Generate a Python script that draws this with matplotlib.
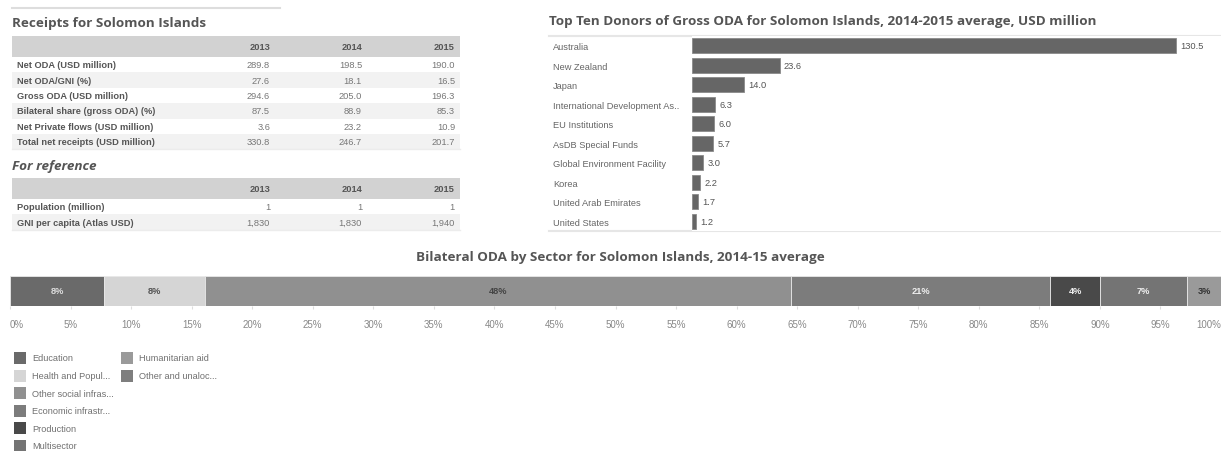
import numpy as np
import matplotlib
matplotlib.use("Agg")
import matplotlib.pyplot as plt
from matplotlib.patches import Rectangle

# ---- data ----
years = ["2013", "2014", "2015"]
receipt_rows = ["Net ODA (USD million)", "Net ODA/GNI (%)", "Gross ODA (USD million)",
                "Bilateral share (gross ODA) (%)", "Net Private flows (USD million)",
                "Total net receipts (USD million)"]
receipt_vals = [["289.8", "198.5", "190.0"],
                ["27.6", "18.1", "16.5"],
                ["294.6", "205.0", "196.3"],
                ["87.5", "88.9", "85.3"],
                ["3.6", "23.2", "10.9"],
                ["330.8", "246.7", "201.7"]]
ref_rows = ["Population (million)", "GNI per capita (Atlas USD)"]
ref_vals = [["1", "1", "1"],
            ["1,830", "1,830", "1,940"]]

donors = ["Australia", "New Zealand", "Japan", "International Development As..",
          "EU Institutions", "AsDB Special Funds", "Global Environment Facility",
          "Korea", "United Arab Emirates", "United States"]
donor_vals = [130.5, 23.6, 14.0, 6.3, 6.0, 5.7, 3.0, 2.2, 1.7, 1.2]

sectors = ["Education", "Health and Popul...", "Other social infras...", "Economic infrastr...",
           "Production", "Multisector", "Humanitarian aid", "Other and unaloc..."]
sector_share = [7.8, 8.3, 48.4, 21.4, 4.1, 7.2, 2.8, 0.0]
sector_colors = ["#6a6a6a", "#d5d5d5", "#909090", "#7c7c7c", "#494949", "#747474", "#9a9a9a", "#7e7e7e"]
sector_text = ["#dcdcdc", "#555555", "#444444", "#eeeeee", "#eeeeee", "#eeeeee", "#333333", "#333333"]

W, H = 1221, 452
TITLE = dict(family="Open Sans", fontweight="bold", color="#555555", fontsize=9.7)
BODY = "Liberation Sans"
FS = 6.7

fig = plt.figure(figsize=(W / 100, H / 100), dpi=100)

def px_axes(x0, y0, x1, y1):
    return fig.add_axes([x0 / W, 1 - y1 / H, (x1 - x0) / W, (y1 - y0) / H])

# overlay in pixel coords for the tables / frames / legend
ov = fig.add_axes([0, 0, 1, 1])
ov.set_xlim(0, W)
ov.set_ylim(H, 0)
ov.axis("off")

# ---- receipts table ----
ov.plot([12, 280], [9, 9], color="#dddddd", lw=1.5)
ov.text(12, 24, "Receipts for Solomon Islands", va="center", **TITLE)
col_x = [270, 362, 455]

def draw_table(top, rows, vals):
    ov.add_patch(Rectangle((12, top), 448, 21, color="#d2d2d2", lw=0))
    for x, y in zip(col_x, years):
        ov.text(x, top + 10.5, y, ha="right", va="center", family=BODY,
                fontweight="bold", fontsize=FS, color="#555555")
    y = top + 21
    for i, (name, v) in enumerate(zip(rows, vals)):
        if i % 2 == 1:
            ov.add_patch(Rectangle((12, y), 448, 15.4, color="#f2f2f2", lw=0))
        ov.text(17, y + 7.7, name, va="center", family=BODY, fontweight="bold",
                fontsize=FS, color="#555555")
        for x, s in zip(col_x, v):
            ov.text(x, y + 7.7, s, ha="right", va="center", family=BODY,
                    fontsize=FS, color="#777777")
        y += 15.4
    ov.plot([12, 460], [y, y], color="#ececec", lw=1)

draw_table(37, receipt_rows, receipt_vals)
ov.text(12, 167, "For reference", va="center", fontstyle="italic", **TITLE)
draw_table(179, ref_rows, ref_vals)

# ---- top ten donors ----
ov.text(549, 22, "Top Ten Donors of Gross ODA for Solomon Islands, 2014-2015 average, USD million",
        va="center", **TITLE)
ov.plot([549, W], [36.5, 36.5], color="#e6e6e6", lw=1.5)
ov.plot([549, W], [232, 232], color="#e6e6e6", lw=1.5)

ax_d = px_axes(692, 37, W, 232)
ypos = np.arange(len(donors))
ax_d.barh(ypos, donor_vals, height=0.78, color="#666666", edgecolor="#8a8a8a", lw=0.6)
ax_d.set_xlim(0, 142.6)
ax_d.set_ylim(len(donors) - 0.5, -0.5)
ax_d.set_yticks(ypos)
ax_d.set_yticklabels(donors, ha="left", family=BODY, fontsize=FS, color="#666666")
ax_d.tick_params(axis="y", length=0, pad=100)
ax_d.set_xticks([])
for s in ax_d.spines.values():
    s.set_visible(False)
for y, v in zip(ypos, donor_vals):
    ax_d.annotate(f"{v:.1f}", (v, y), xytext=(3, 0), textcoords="offset points",
                  va="center", family=BODY, fontsize=FS, color="#555555")

# ---- sector bar ----
ov.text(620, 258, "Bilateral ODA by Sector for Solomon Islands, 2014-15 average",
        ha="center", va="center", **TITLE)
ax_s = px_axes(10, 277, 1221, 307)
left = 0
for name, v, c, tc in zip(sectors, sector_share, sector_colors, sector_text):
    if v <= 0:
        continue
    ax_s.barh(0, v, left=left, height=1, color=c, edgecolor="#e8e8e8", lw=0.6)
    ax_s.text(left + v / 2, 0, f"{v:.0f}%", ha="center", va="center", family=BODY,
              fontweight="bold", fontsize=FS, color=tc)
    left += v
ax_s.set_xlim(0, 100)
ax_s.set_ylim(-0.5, 0.5)
ax_s.set_yticks([])
ax_s.set_xticks(np.arange(0, 101, 5))
ax_s.set_xticklabels([f"{t}%" for t in range(0, 101, 5)], family=BODY, fontsize=7.0, color="#888888")
tl = ax_s.get_xticklabels()
tl[0].set_ha("left")
tl[-1].set_ha("right")
ax_s.tick_params(axis="x", length=2, color="#dddddd", pad=7)
for s in ax_s.spines.values():
    s.set_visible(False)

# ---- legend ----
for i, (name, c) in enumerate(zip(sectors, sector_colors)):
    cx = 14 + 107 * (i // 6)
    cy = 359 + 17.6 * (i % 6)
    ov.add_patch(Rectangle((cx, cy - 6), 12, 12, color=c, lw=0))
    ov.text(cx + 18, cy, name, va="center", family=BODY, fontsize=6.6, color="#707070")

fig.savefig("out.png", dpi=100)
